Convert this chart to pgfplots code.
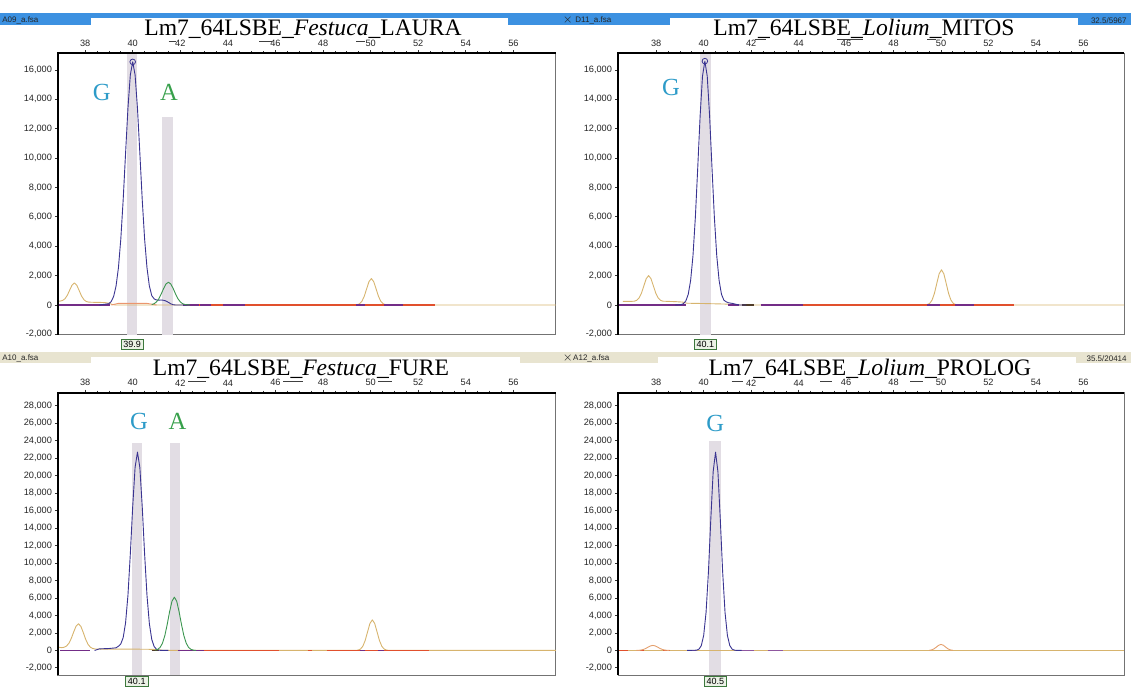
\documentclass[border=0pt]{standalone}
\usepackage{pgfplots}
\pgfplotsset{compat=1.18}
\usepackage{fontspec}
\setmainfont{Liberation Sans}
\newfontfamily\titlefont{Liberation Serif}
\definecolor{trblue}{RGB}{58,52,145}
\definecolor{trgreen}{RGB}{60,150,80}
\definecolor{tryel}{RGB}{215,180,110}
\definecolor{trorange}{RGB}{228,160,110}
\definecolor{trred}{RGB}{225,80,45}
\definecolor{trsalmon}{RGB}{235,150,110}
\definecolor{trpurple}{RGB}{115,45,135}
\definecolor{trdark}{RGB}{80,60,40}
\definecolor{bandcol}{RGB}{226,221,228}
\definecolor{gcol}{RGB}{45,155,200}
\definecolor{acol}{RGB}{55,160,75}
\definecolor{hdrblue}{RGB}{60,145,225}
\definecolor{hdrbeige}{RGB}{232,228,208}
\definecolor{lblgreen}{RGB}{60,120,60}
\definecolor{lblfill}{RGB}{235,242,230}
\tikzset{
  hdr/.style={font=\fontsize{4}{4.5}\selectfont, inner sep=0, text=black!85},
  ttl/.style={font=\titlefont\fontsize{11.8}{12}\selectfont, inner sep=0, anchor=base},
  glab/.style={font=\titlefont\fontsize{12.3}{13}\selectfont, text=gcol, anchor=base, inner sep=0},
  alab/.style={font=\titlefont\fontsize{12.3}{13}\selectfont, text=acol, anchor=base, inner sep=0},
  sizelab/.style={draw=lblgreen, fill=lblfill, line width=0.4pt, inner xsep=1.2pt, inner ysep=0.8pt, font=\fontsize{4.5}{5}\selectfont, anchor=north},
  dsh/.style={black!75, line width=0.45pt},
}
\pgfplotsset{
  panel/.style={
    scale only axis, anchor=north west,
    clip mode=individual,
    axis line style={draw=black!55, line width=0.5pt},
    xtick={38,40,...,56}, xtick pos=right, xticklabel pos=right,
    minor x tick num=3,
    ytick pos=left,
    tick align=outside,
    major tick length=1.5pt, minor tick length=1pt,
    tick style={black!80, line width=0.4pt},
    scaled y ticks=false,
    ticklabel style={font=\fontsize{4.6}{5}\selectfont, text=black!85},
    yticklabel style={/pgf/number format/.cd, fixed, 1000 sep={,}, assume math mode=true, /tikz/.cd, xshift=2pt},
    xticklabel style={/pgf/number format/assume math mode=true, /tikz/.cd, yshift=-1.7pt},
    unbounded coords=jump,
  },
  tr/.style={line width=0.45pt, line join=round, mark=none, forget plot},
  seg/.style={line width=0.9pt, mark=none, forget plot},
  band/.style={fill=bandcol, draw=none, forget plot},
}
\begin{document}
\begin{tikzpicture}
\begin{scope}[x=0.5pt,y=-0.5pt]
\useasboundingbox (0,0) rectangle (1131,686);
% header strips
\fill[hdrblue] (0,13.3) rectangle (1131,25);
\fill[white] (90.5,18.3) rectangle (508,42);
\fill[white] (669.5,18.3) rectangle (1078,42);
\fill[hdrbeige] (0,351.7) rectangle (1131,363.3);
\fill[white] (90.5,356.7) rectangle (520,381);
\fill[white] (657.8,356.7) rectangle (1076,381);
\node[hdr, anchor=west] at (2,20.5) {A09\_a.fsa};
\node[hdr, anchor=west] at (562,20.5) {$\times$ D11\_a.fsa};
\node[hdr, anchor=east] at (1127,20.5) {32.5/5967};
\node[hdr, anchor=west] at (2,358.5) {A10\_a.fsa};
\node[hdr, anchor=west] at (562,358.5) {$\times$A12\_a.fsa};
\node[hdr, anchor=east] at (1127,358.5) {35.5/20414};
% titles
\node[ttl] at (303,36) {Lm7\_64LSBE\_\textit{Festuca}\_LAURA};
\node[ttl] at (864,36) {Lm7\_64LSBE\_\textit{Lolium}\_MITOS};
\node[ttl] at (301,376) {Lm7\_64LSBE\_\textit{Festuca}\_FURE};
\node[ttl] at (870,376) {Lm7\_64LSBE\_\textit{Lolium}\_PROLOG};
% stray underscore dashes in the tick row
\draw[dsh] (168.6,41) -- (176,41); \draw[dsh] (259,41) -- (272,41); \draw[dsh] (356,41) -- (365,41);
\draw[dsh] (755,39.5) -- (766,39.5); \draw[dsh] (837,39.5) -- (863,39.5); \draw[dsh] (927,39.5) -- (936,39.5);
\draw[dsh] (188,381.7) -- (206,381.7); \draw[dsh] (283,381.7) -- (303,381.7); \draw[dsh] (378,381.7) -- (392,381.7);
\draw[dsh] (731.5,381.7) -- (742.5,381.7); \draw[dsh] (820,381.7) -- (832,381.7); \draw[dsh] (910,381.7) -- (923,381.7);
\end{scope}

% ---------------- Panel 1 ----------------
\begin{axis}[panel, at={(29pt,-26.65pt)}, width=249pt, height=140.85pt,
  xmin=36.86, xmax=57.79, ymin=-2042, ymax=17134, ytick={-2000,0,...,16000}]
\addplot[band] coordinates {(39.75,-2042) (39.75,17134) (40.2,17134) (40.2,-2042)} --cycle;
\addplot[band] coordinates {(41.23,-2042) (41.23,12785) (41.69,12785) (41.69,-2042)} --cycle;
\addplot[tr, tryel] coordinates {(36.86,250)(36.95,264)(37.05,305)(37.15,419)(37.25,656)(37.35,1008)(37.45,1353)(37.55,1500)(37.65,1345)(37.75,981)(37.85,609)(37.95,359)(38.05,238)(38.15,195)(38.4,180)(38.8,170)(39.0,120)(39.15,30)(39.3,0)(49.33,0)(49.43,20)(49.53,79)(49.63,244)(49.73,584)(49.83,1092)(49.93,1589)(50.03,1800)(50.13,1589)(50.23,1092)(50.33,584)(50.43,244)(50.53,79)(50.63,20)(50.75,0)(57.79,0)};
\addplot[tr, trsalmon] coordinates {(39.1,0)(39.4,110)(40.6,110)(41.0,0)};
\addplot[tr, trred, line width=0.7pt] coordinates {(42.1,0)(52.7,0)};
\addplot[seg, trpurple] coordinates {(36.86,0)(39.05,0)(39.1,nan)(42.1,0)(42.8,0)(42.82,nan)(42.84,0)(43.27,0)(43.3,nan)(43.8,0)(44.7,0)(44.8,nan)(49.4,0)(49.75,0)(49.8,nan)(50.55,0)(51.38,0)};
\addplot[tr, trblue] coordinates {(38.6,0)(39.0,91)(39.1,244)(39.2,591)(39.3,1290)(39.4,2536)(39.5,4494)(39.6,7177)(39.7,10331)(39.8,13400)(39.9,15664)(40.0,16550)(40.1,15664)(40.2,13400)(40.3,10331)(40.4,7177)(40.5,4494)(40.6,2536)(40.7,1290)(40.8,640)(40.9,420)(41.0,340)(41.1,330)(41.2,340)(41.3,320)(41.4,270)(41.5,180)(41.6,80)(41.7,20)(41.8,0)(42.3,0)};
\addplot[tr, trgreen] coordinates {(40.8,31)(40.9,87)(41.0,210)(41.1,431)(41.2,754)(41.3,1125)(41.4,1431)(41.5,1550)(41.6,1431)(41.7,1125)(41.8,754)(41.9,431)(42.0,210)(42.1,87)(42.2,31)(42.3,9)(42.4,0)};
\addplot[only marks, mark=o, mark size=1.4pt, trblue, mark options={line width=0.4pt}, forget plot] coordinates {(40.0,16550)};
\node[glab] at (axis cs:38.7,13950) {G};
\node[alab] at (axis cs:41.53,13950) {A};
\node[sizelab] at (axis cs:39.98,-2042) [yshift=-2pt] {39.9};
\draw[black, line width=0.9pt] (rel axis cs:0,0) -- (rel axis cs:0,1) -- (rel axis cs:1,1);
\end{axis}

% ---------------- Panel 2 ----------------
\begin{axis}[panel, at={(309pt,-26.65pt)}, width=253pt, height=140.85pt,
  xmin=36.39, xmax=57.71, ymin=-2042, ymax=17134, ytick={-2000,0,...,16000}]
\addplot[band] coordinates {(39.85,-2042) (39.85,17134) (40.32,17134) (40.32,-2042)} --cycle;
\addplot[tr, tryel] coordinates {(36.6,250)(36.98,250)(37.08,260)(37.18,317)(37.28,478)(37.38,811)(37.48,1307)(37.58,1793)(37.68,2000)(37.78,1793)(37.88,1307)(37.98,811)(38.08,478)(38.18,317)(38.28,260)(38.5,245)(38.8,230)(39.1,200)(39.3,120)(40.0,100)(41.0,60)(41.3,0)(49.3,0)(49.42,27)(49.52,105)(49.62,325)(49.72,779)(49.82,1456)(49.92,2118)(50.02,2400)(50.12,2118)(50.22,1456)(50.32,779)(50.42,325)(50.52,105)(50.62,27)(50.75,0)(57.71,0)};
\addplot[tr, trred, line width=0.7pt] coordinates {(44.18,0)(53.08,0)};
\addplot[seg, trpurple] coordinates {(36.39,0)(39.25,0)(39.3,nan)(41.04,0)(41.5,0)(41.55,nan)(42.4,0)(44.2,0)(44.3,nan)(49.4,0)(49.96,0)(50.0,nan)(50.6,0)(51.4,0)};
\addplot[seg, trdark] coordinates {(41.6,0)(42.1,0)};
\addplot[tr, trblue] coordinates {(38.8,0)(39.05,28)(39.15,95)(39.25,280)(39.35,729)(39.45,1672)(39.55,3370)(39.65,5983)(39.75,9351)(39.85,12862)(39.95,15574)(40.05,16600)(40.15,15574)(40.25,12862)(40.35,9351)(40.45,5983)(40.55,3370)(40.65,1672)(40.75,729)(40.85,330)(40.95,215)(41.05,150)(41.2,110)(41.35,50)(41.5,0)(41.8,0)};
\addplot[only marks, mark=o, mark size=1.4pt, trblue, mark options={line width=0.4pt}, forget plot] coordinates {(40.05,16600)};
\node[glab] at (axis cs:38.62,14250) {G};
\node[sizelab] at (axis cs:40.07,-2042) [yshift=-2pt] {40.1};
\draw[black, line width=0.9pt] (rel axis cs:0,0) -- (rel axis cs:0,1) -- (rel axis cs:1,1);
\end{axis}

% ---------------- Panel 3 ----------------
\begin{axis}[panel, at={(29pt,-196.35pt)}, width=249pt, height=141.4pt,
  xmin=36.86, xmax=57.79, ymin=-2870, ymax=29510, ytick={-2000,0,...,28000}]
\addplot[band] coordinates {(39.96,-2870) (39.96,23760) (40.41,23760) (40.41,-2870)} --cycle;
\addplot[band] coordinates {(41.55,-2870) (41.55,23760) (42.0,23760) (42.0,-2870)} --cycle;
\addplot[tr, tryel] coordinates {(36.87,380)(36.95,340)(37.02,317)(37.12,367)(37.22,508)(37.32,827)(37.42,1385)(37.52,2119)(37.62,2780)(37.72,3050)(37.82,2766)(37.92,2068)(38.02,1294)(38.12,705)(38.22,369)(38.32,220)(38.42,168)(38.8,150)(40.0,150)(41.0,120)(41.3,0)(49.37,0)(49.47,39)(49.57,154)(49.67,474)(49.77,1136)(49.87,2123)(49.97,3089)(50.07,3500)(50.17,3089)(50.27,2123)(50.37,1136)(50.47,474)(50.57,154)(50.67,39)(50.8,0)(57.79,0)};
\addplot[tr, trred, line width=0.7pt] coordinates {(43.0,0)(46.15,0)(46.2,nan)(47.35,0)(47.55,0)(47.6,nan)(48.15,0)(52.45,0)};
\addplot[seg, trpurple] coordinates {(36.95,0)(38.2,0)(38.25,nan)(41.9,0)(43.0,0)(43.05,nan)(49.55,0)(49.75,0)(49.8,nan)(50.3,0)(50.55,0)};
\addplot[seg, trdark] coordinates {(40.8,0)(41.1,0)};
\addplot[tr, trblue] coordinates {(38.4,0)(38.6,180)(39.0,220)(39.3,300)(39.4,480)(39.5,750)(39.6,1470)(39.7,3165)(39.8,6311)(39.9,11055)(40.0,16480)(40.1,20952)(40.2,22700)(40.3,20952)(40.4,16480)(40.5,11055)(40.6,6311)(40.7,3065)(40.8,1273)(40.9,449)(41.0,136)(41.1,30)(41.2,0)(41.5,0)};
\addplot[tr, trgreen] coordinates {(40.95,37)(41.05,121)(41.15,342)(41.25,824)(41.35,1696)(41.45,2971)(41.55,4429)(41.65,5630)(41.75,6100)(41.85,5630)(41.95,4429)(42.05,2971)(42.15,1696)(42.25,824)(42.35,342)(42.45,121)(42.55,37)(42.65,0)};
\node[glab] at (axis cs:40.26,25310) {G};
\node[alab] at (axis cs:41.88,25310) {A};
\node[sizelab] at (axis cs:40.17,-2870) [yshift=-0.3pt] {40.1};
\draw[black, line width=0.9pt] (rel axis cs:0,0) -- (rel axis cs:0,1) -- (rel axis cs:1,1);
\end{axis}

% ---------------- Panel 4 ----------------
\begin{axis}[panel, at={(309pt,-196.35pt)}, width=253pt, height=141.4pt,
  xmin=36.39, xmax=57.71, ymin=-2870, ymax=29510, ytick={-2000,0,...,28000}]
\addplot[band] coordinates {(40.23,-2870) (40.23,24020) (40.71,24020) (40.71,-2870)} --cycle;
\addplot[tr, tryel] coordinates {(36.39,0)(57.71,0)};
\addplot[tr, trred, line width=0.7pt] coordinates {(36.42,0)(36.8,0)(36.85,nan)(37.31,0)(37.5,0)(37.55,nan)(38.3,0)(38.57,0)};
\addplot[tr, trorange] coordinates {(37.16,4)(37.26,14)(37.36,43)(37.46,110)(37.56,227)(37.66,380)(37.76,519)(37.86,575)(37.96,519)(38.06,380)(38.16,227)(38.26,110)(38.36,43)(38.46,14)(38.56,4)(38.6,nan)(49.5,15)(49.6,58)(49.7,172)(49.8,372)(49.9,591)(50.0,690)(50.1,591)(50.2,372)(50.3,172)(50.4,58)(50.5,15)};
\addplot[seg, trpurple!80] coordinates {(39.33,0)(39.67,0)(39.7,nan)(41.41,0)(42.1,0)(42.15,nan)(42.69,0)(43.33,0)};
\addplot[tr, trblue] coordinates {(39.3,0)(39.7,30)(39.8,143)(39.9,552)(40.0,1716)(40.1,4347)(40.2,8957)(40.3,15016)(40.4,20473)(40.5,22700)(40.6,20473)(40.7,15016)(40.8,8957)(40.9,4347)(41.0,1716)(41.1,552)(41.2,143)(41.3,30)(41.4,0)(41.6,0)};
\node[glab] at (axis cs:40.49,25030) {G};
\node[sizelab] at (axis cs:40.49,-2870) [yshift=-0.3pt] {40.5};
\draw[black, line width=0.9pt] (rel axis cs:0,0) -- (rel axis cs:0,1) -- (rel axis cs:1,1);
\end{axis}
\end{tikzpicture}
\end{document}
